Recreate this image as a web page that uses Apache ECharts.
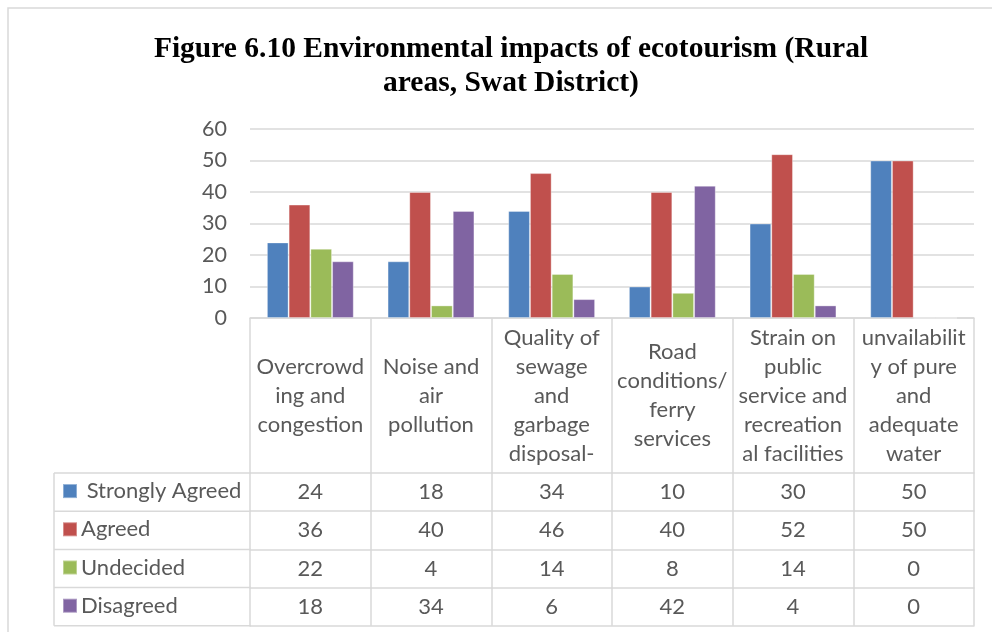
<!DOCTYPE html>
<html><head><meta charset="utf-8">
<script src="https://cdn.jsdelivr.net/npm/echarts@6/dist/echarts.min.js"></script>
<style>html,body{margin:0;padding:0;background:#fff}#c{width:992px;height:632px}</style>
</head><body><div id="c"></div>
<script>
var categories = ["Overcrowd\ning and\ncongestion", "Noise and\nair\npollution", "Quality of\nsewage\nand\ngarbage\ndisposal-", "Road\nconditions/\nferry\nservices", "Strain on\npublic\nservice and\nrecreation\nal facilities", "unvailabilit\ny of pure\nand\nadequate\nwater"];
var seriesNames = ["Strongly Agreed", "Agreed", "Undecided", "Disagreed"];
var stronglyAgreed = [24, 18, 34, 10, 30, 50];
var agreed = [36, 40, 46, 40, 52, 50];
var undecided = [22, 4, 14, 8, 14, 0];
var disagreed = [18, 34, 6, 42, 4, 0];
var colors = ["#4F81BD", "#C0504D", "#9BBB59", "#8064A2"];
var yTicks = {min: 0, max: 60, interval: 10};

var values = [stronglyAgreed, agreed, undecided, disagreed];
var FONT = 'Lato';
var FS = 22;
var TXT = '#595959';
var LINE = '#d9d9d9';
var headerH = 155, rowH = 38.2;

var chart = echarts.init(document.getElementById('c'));
var xAxes = [{
  type: 'category', gridIndex: 0, data: categories, position: 'bottom',
  axisLine: {show: true, lineStyle: {color: LINE, width: 1.5}},
  axisTick: {show: true, interval: 0, length: headerH, lineStyle: {color: LINE, width: 1.5}},
  axisLabel: {interval: 0, margin: headerH / 2, verticalAlign: 'middle', fontFamily: FONT, fontSize: FS, lineHeight: 29, color: TXT}
}];
values.forEach(function (arr, i) {
  xAxes.push({
    type: 'category', gridIndex: 0, position: 'bottom', offset: headerH + i * rowH,
    data: arr.map(String),
    axisLine: {show: true, lineStyle: {color: LINE, width: 1.5}},
    axisTick: {show: true, interval: 0, length: rowH, lineStyle: {color: LINE, width: 1.5}},
    axisLabel: {interval: 0, margin: rowH / 2, verticalAlign: 'middle', fontFamily: FONT, fontSize: FS, color: TXT}
  });
});
xAxes.push({
  type: 'category', gridIndex: 0, position: 'bottom', offset: headerH + 4 * rowH,
  data: categories.map(function(){return '';}),
  axisLine: {show: true, lineStyle: {color: LINE, width: 1.5}},
  axisTick: {show: false}, axisLabel: {show: false}
});

var series = seriesNames.map(function (n, i) {
  return {
    name: n, type: 'bar', xAxisIndex: 0, yAxisIndex: 0, data: values[i],
    barGap: '0%', barCategoryGap: '28%',
    itemStyle: {color: colors[i], borderColor: 'rgba(255,255,255,0.35)', borderWidth: 1},
    emphasis: {disabled: true}
  };
});

var gLeft = 54, gTableTop = 318 + headerH;
var graphics = [
  {type: 'rect', shape: {x: 8, y: 8, width: 1000, height: 700}, style: {fill: 'none', stroke: LINE, lineWidth: 1.5}, silent: true},
  {type: 'line', shape: {x1: gLeft, y1: gTableTop, x2: gLeft, y2: gTableTop + 4 * rowH}, style: {stroke: LINE, lineWidth: 1.5}, silent: true}
];
for (var r = 0; r <= 4; r++) {
  graphics.push({type: 'line', shape: {x1: gLeft, y1: gTableTop + r * rowH, x2: 251, y2: gTableTop + r * rowH}, style: {stroke: LINE, lineWidth: 1.5}, silent: true});
}

chart.setOption({
  animation: false,
  title: {
    text: 'Figure 6.10 Environmental impacts of ecotourism (Rural\nareas, Swat District)',
    left: 506, top: 27, textAlign: 'center',
    textStyle: {fontFamily: 'Liberation Serif', fontWeight: 'bold', fontSize: 29.5, lineHeight: 34, color: '#000'}
  },
  legend: {
    orient: 'vertical', left: 62, top: gTableTop + rowH / 2 - FS / 2 - 1, padding: 0,
    itemWidth: 14, itemHeight: 14, itemGap: rowH - FS,
    selectedMode: false, icon: 'rect',
    formatter: function (n) { return n === 'Strongly Agreed' ? ' ' + n : n; },
    textStyle: {fontFamily: FONT, fontSize: FS, lineHeight: FS, color: TXT, padding: [0, 0, 0, -1]},
    data: seriesNames
  },
  grid: {left: 250, right: 18, top: 129, bottom: 314, containLabel: false},
  xAxis: xAxes,
  yAxis: {
    type: 'value', min: yTicks.min, max: yTicks.max, interval: yTicks.interval,
    axisLine: {show: false}, axisTick: {show: false},
    splitLine: {lineStyle: {color: LINE, width: 1.5}},
    axisLabel: {margin: 23, fontFamily: FONT, fontSize: 21.5, color: TXT}
  },
  series: series,
  graphic: graphics
});
</script></body></html>
